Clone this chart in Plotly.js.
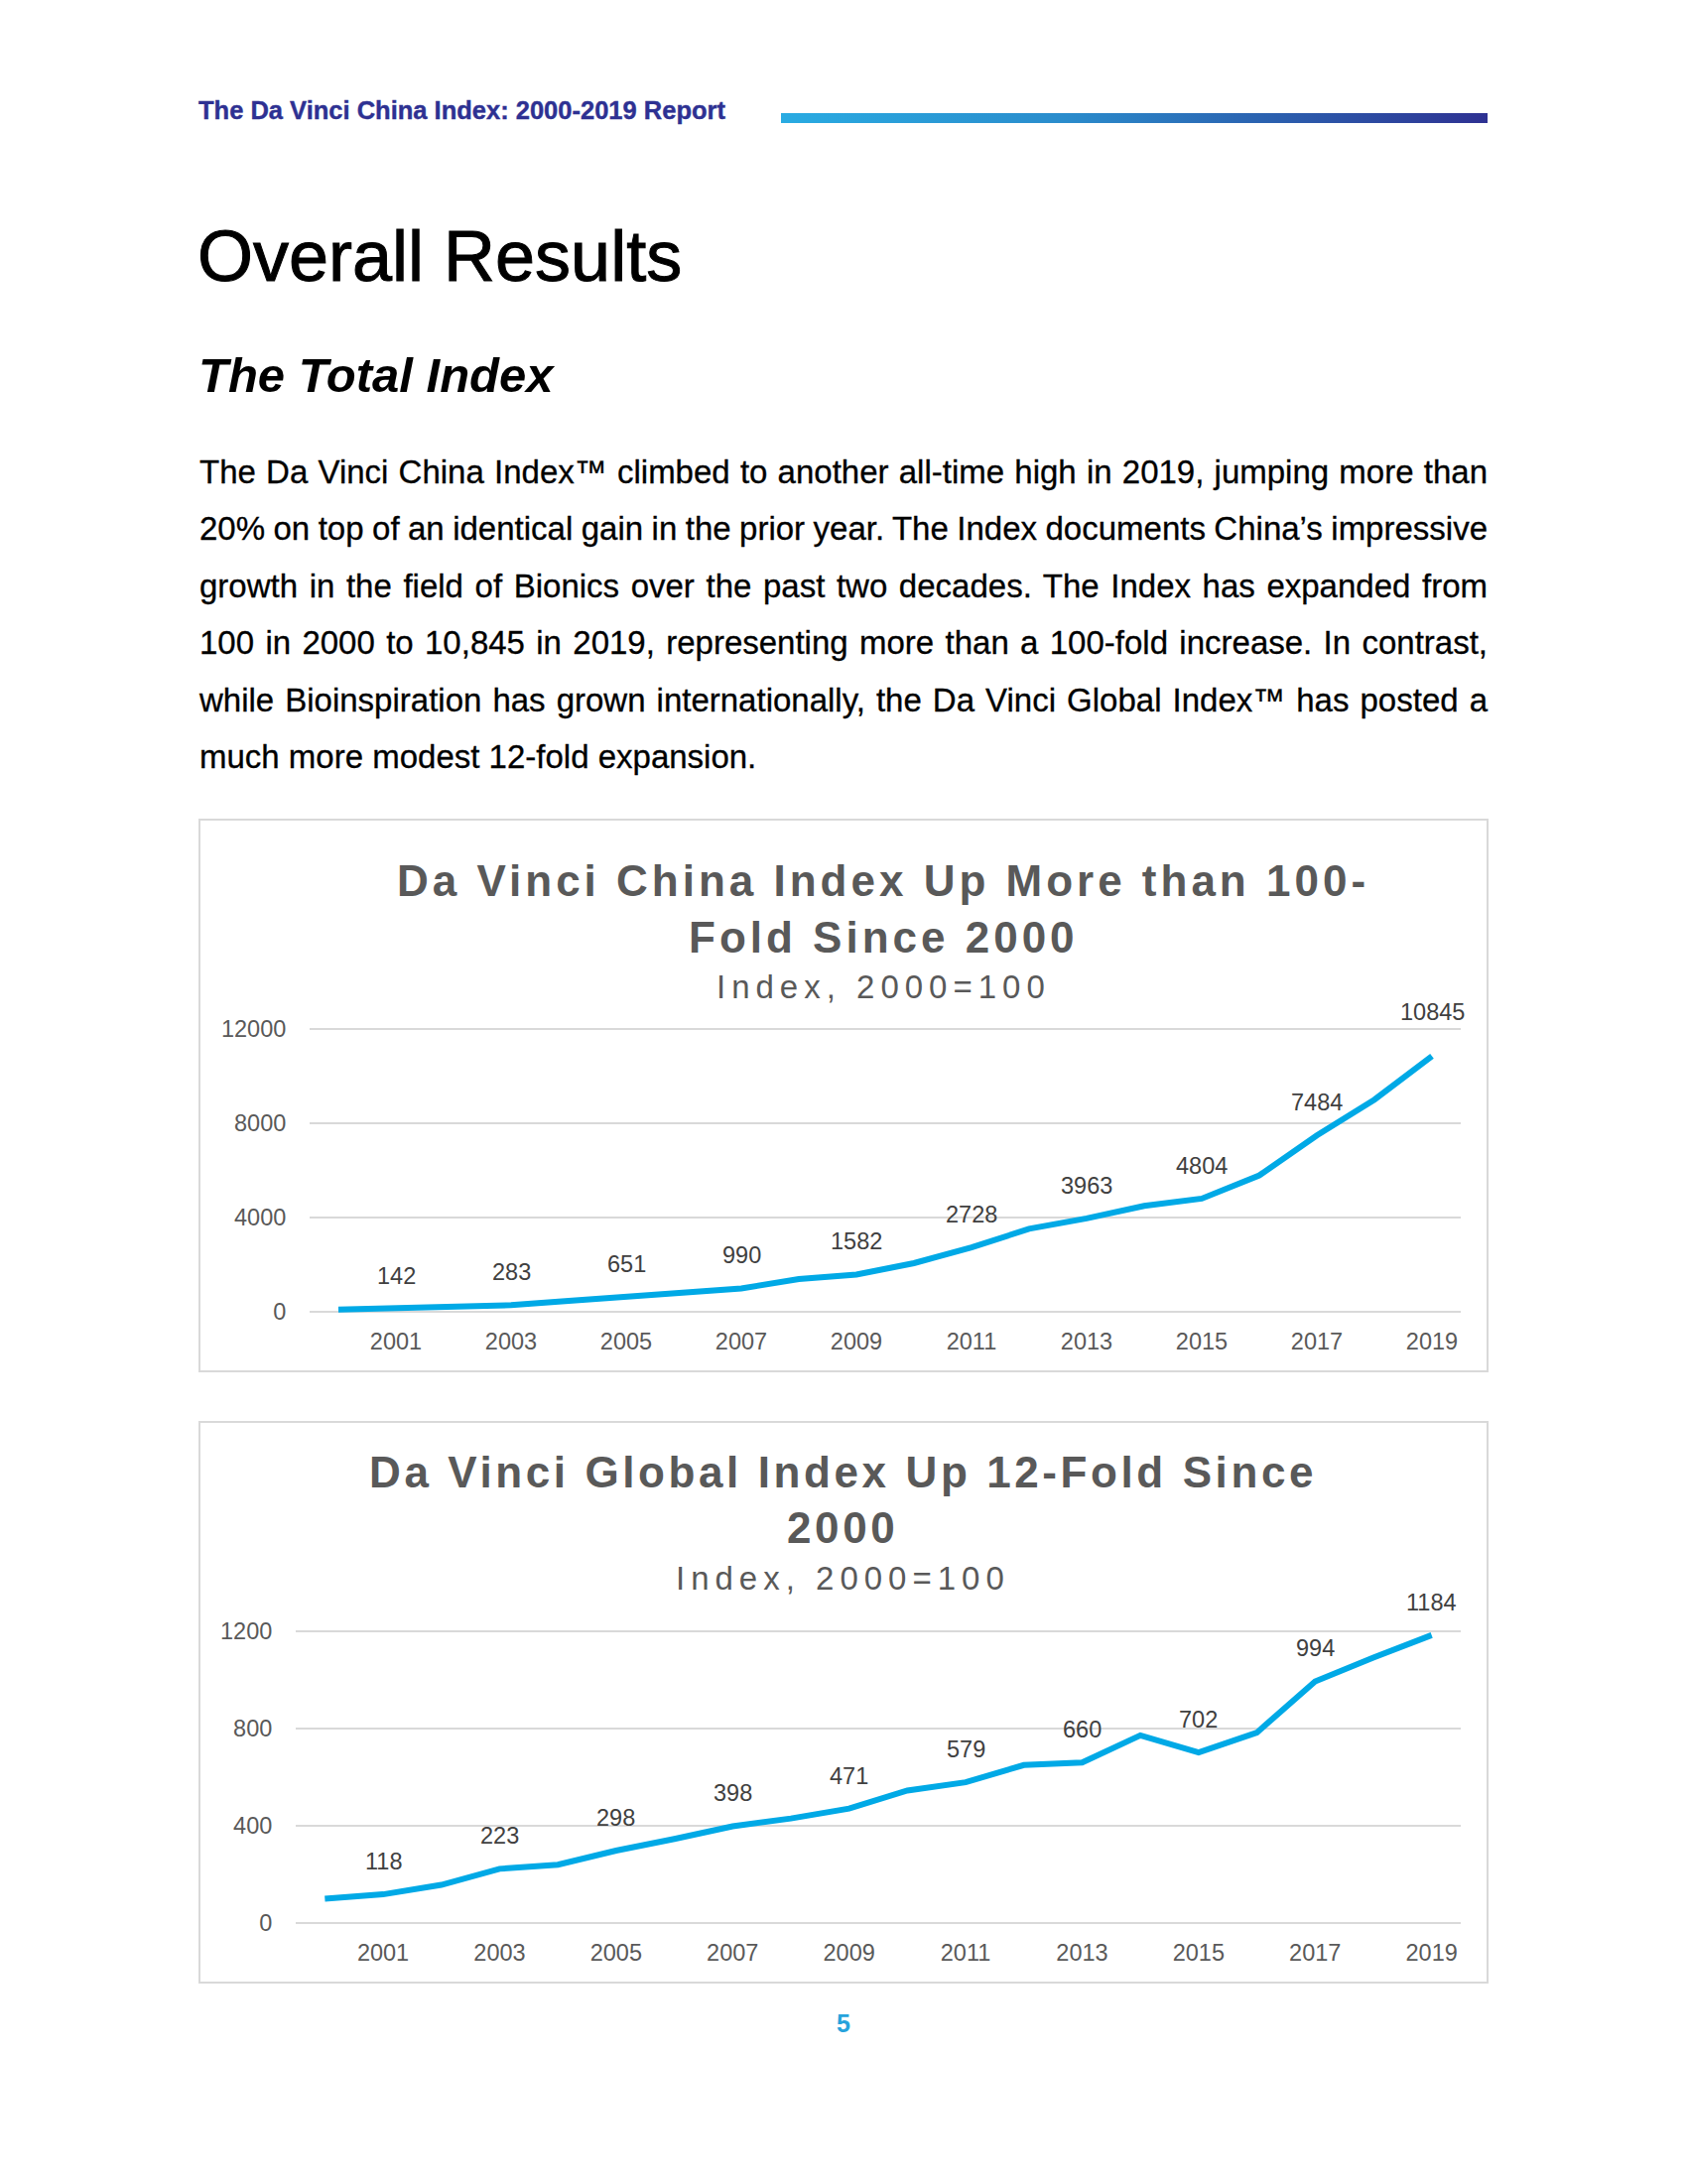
<!DOCTYPE html>
<html>
<head>
<meta charset="utf-8">
<script src="https://cdn.plot.ly/plotly-3.0.1.min.js"></script>
<style>
html, body { margin: 0; padding: 0; background: #ffffff; }
body { width: 1701px; height: 2201px; position: relative; overflow: hidden;
       font-family: "Liberation Sans", Arial, sans-serif; color: #000; }
.abs { position: absolute; }
.hdr { left: 200px; top: 99px; font-size: 25.5px; line-height: 25.5px; font-weight: 700; color: #2e3192; white-space: nowrap; -webkit-text-stroke: 0.4px #2e3192; }
.bar { left: 787px; top: 114px; width: 712px; height: 10px;
       background: linear-gradient(to right, #29abe2 0%, #2a8ccc 40%, #2b5fae 70%, #2e3192 100%); }
.h1 { left: 199px; top: 222px; font-size: 72px; line-height: 72px; white-space: nowrap; -webkit-text-stroke: 1px #000; }
.h2 { left: 200px; top: 353.5px; font-size: 49px; line-height: 49px; font-style: italic; font-weight: 700; white-space: nowrap; }
.pline { left: 201px; font-size: 33px; height: 57.4px; line-height: 57.4px; white-space: nowrap; -webkit-text-stroke: 0.3px #000; }
.chart { position: absolute; }
.frame { position: absolute; box-sizing: border-box; border: 2px solid #d9d9d9; pointer-events: none; }
.pnum { left: 800px; width: 100px; text-align: center; top: 2027px; font-size: 25px; line-height: 25px; font-weight: 700; color: #27a3dc; }
</style>
</head>
<body>

<div class="abs hdr">The Da Vinci China Index: 2000-2019 Report</div>
<div class="abs bar"></div>
<div class="abs h1">Overall Results</div>
<div class="abs h2">The Total Index</div>

<div id="para"></div>

<div id="chinaChart" class="chart" style="left:200px; top:825px; width:1300px; height:558px;"></div>
<div class="frame" style="left:200px; top:825px; width:1300px; height:558px;"></div>

<div id="globalChart" class="chart" style="left:200px; top:1432px; width:1300px; height:567px;"></div>
<div class="frame" style="left:200px; top:1432px; width:1300px; height:567px;"></div>

<div class="abs pnum">5</div>

<script>
// ---------------- DATA ----------------
const years = ['2000','2001','2002','2003','2004','2005','2006','2007','2008','2009',
               '2010','2011','2012','2013','2014','2015','2016','2017','2018','2019'];
const chinaIndex  = [100, 142, 215, 283, 465, 651, 820, 990, 1390, 1582,
                     2065, 2728, 3520, 3963, 4495, 4804, 5790, 7484, 9000, 10845];
const globalIndex = [100, 118, 157, 223, 240, 298, 346, 398, 430, 471,
                     545, 579, 650, 660, 772, 702, 783, 994, 1092, 1184];
const xTickLabels = ['2001','2003','2005','2007','2009','2011','2013','2015','2017','2019'];
const chinaYTicks  = [0, 4000, 8000, 12000];
const globalYTicks = [0, 400, 800, 1200];
const chinaTitle  = ['Da Vinci China Index Up More than 100-', 'Fold Since 2000'];
const globalTitle = ['Da Vinci Global Index Up 12-Fold Since', '2000'];
const chartSubtitle = 'Index, 2000=100';
const paragraphLines = [
  'The Da Vinci China Index\u2122 climbed to another all-time high in 2019, jumping more than',
  '20% on top of an identical gain in the prior year. The Index documents China\u2019s impressive',
  'growth in the field of Bionics over the past two decades. The Index has expanded from',
  '100 in 2000 to 10,845 in 2019, representing more than a 100-fold increase. In contrast,',
  'while Bioinspiration has grown internationally, the Da Vinci Global Index\u2122 has posted a',
  'much more modest 12-fold expansion.'
];

// ---------------- PARAGRAPH (justified line by line) ----------------
const PARA_W = 1298;
const para = document.getElementById('para');
paragraphLines.forEach((t, i) => {
  const d = document.createElement('div');
  d.className = 'abs pline';
  d.style.top = (446.9 + 57.4 * i) + 'px';
  d.textContent = t;
  para.appendChild(d);
  if (i < paragraphLines.length - 1) {
    const natural = d.getBoundingClientRect().width;
    const spaces = (t.match(/ /g) || []).length;
    if (spaces > 0) d.style.wordSpacing = ((PARA_W - natural) / spaces) + 'px';
  }
});

// ---------------- CHARTS ----------------
const FONT = '"Liberation Sans", Arial, sans-serif';
const LINE_COLOR = '#00a9e6';
const EDGE_PAD = 4;        // px of extra axis range so the end gridlines are not clipped
const LABEL_SHIFT = 33;    // px from point to data-label centre
const LABEL_CLEAR = 16.7;  // px a label sits above the top gridline when it would cross it

function buildChart(id, values, yTicks, yMax, titleLines, g, titleSpacing) {
  const gridH = g.H - g.m.t - g.m.b;          // pixel distance 0 -> yMax
  const unitPx = gridH / yMax;
  const m = { l: g.m.l, r: g.m.r, t: g.m.t - EDGE_PAD, b: g.m.b - EDGE_PAD, pad: 0 };
  const yRange = [-EDGE_PAD / unitPx, yMax + EDGE_PAD / unitPx];
  const plotW = g.W - m.l - m.r;
  const plotH = g.H - m.t - m.b;
  const px2x = px => (px - m.l) / plotW;
  const px2y = py => (g.H - m.b - py) / plotH;

  const ann = [];
  titleLines.forEach((t, i) => {
    ann.push({
      xref: 'paper', yref: 'paper', x: px2x(g.titleX), y: px2y(g.titleY[i]),
      xanchor: 'center', yanchor: 'middle', showarrow: false,
      text: '<span style="letter-spacing:' + titleSpacing + 'px">' + t + '</span>',
      font: { family: FONT, size: 44, color: '#595959', weight: 700 }
    });
  });
  ann.push({
    xref: 'paper', yref: 'paper', x: px2x(g.titleX), y: px2y(g.subY),
    xanchor: 'center', yanchor: 'middle', showarrow: false,
    text: '<span style="letter-spacing:6px">' + chartSubtitle + '</span>',
    font: { family: FONT, size: 33, color: '#595959' }
  });
  years.forEach((yr, i) => {
    if (Number(yr) % 2 === 1) {
      // distance (px) between the label centre and the top gridline
      const gap = (yMax - values[i]) * unitPx - LABEL_SHIFT;
      const shift = Math.abs(gap) < 14 ? (yMax - values[i]) * unitPx + LABEL_CLEAR : LABEL_SHIFT;
      ann.push({
        x: i, y: values[i], xref: 'x', yref: 'y', text: String(values[i]),
        showarrow: false, yshift: shift, xanchor: 'center', yanchor: 'middle',
        font: { family: FONT, size: 23.5, color: '#404040' }
      });
    }
  });

  const trace = {
    type: 'scatter', mode: 'lines', x: years, y: values,
    line: { color: LINE_COLOR, width: 6 }, hoverinfo: 'skip', showlegend: false
  };

  const layout = {
    width: g.W, height: g.H,
    margin: m,
    paper_bgcolor: 'rgba(0,0,0,0)', plot_bgcolor: 'rgba(0,0,0,0)',
    showlegend: false,
    font: { family: FONT, color: '#595959' },
    xaxis: {
      type: 'category', range: [-0.5, years.length - 0.5],
      tickmode: 'array', tickvals: xTickLabels, ticktext: xTickLabels,
      showgrid: false, zeroline: false, showline: false,
      ticks: 'outside', ticklen: 9 - EDGE_PAD, tickcolor: 'rgba(0,0,0,0)',
      tickfont: { family: FONT, size: 23.5, color: '#595959' }, fixedrange: true
    },
    yaxis: {
      range: yRange,
      tickmode: 'array', tickvals: yTicks, ticktext: yTicks.map(String),
      showgrid: true, gridcolor: '#d9d9d9', gridwidth: 1.6,
      zeroline: false, showline: false,
      ticks: 'outside', ticklen: 18, tickcolor: 'rgba(0,0,0,0)',
      tickfont: { family: FONT, size: 23.5, color: '#595959' }, fixedrange: true
    },
    annotations: ann
  };
  Plotly.newPlot(id, [trace], layout, { staticPlot: true, displayModeBar: false });
}

buildChart('chinaChart', chinaIndex, chinaYTicks, 12000, chinaTitle, {
  W: 1300, H: 558, m: { l: 112, r: 28, t: 211.6, b: 61.3 },
  titleX: 690, titleY: [62.5, 118.8], subY: 169.3
}, 4);
buildChart('globalChart', globalIndex, globalYTicks, 1200, globalTitle, {
  W: 1300, H: 567, m: { l: 98, r: 28, t: 211.6, b: 61 },
  titleX: 649, titleY: [51.1, 107.4], subY: 157.9
}, 3.6);
</script>
</body>
</html>
